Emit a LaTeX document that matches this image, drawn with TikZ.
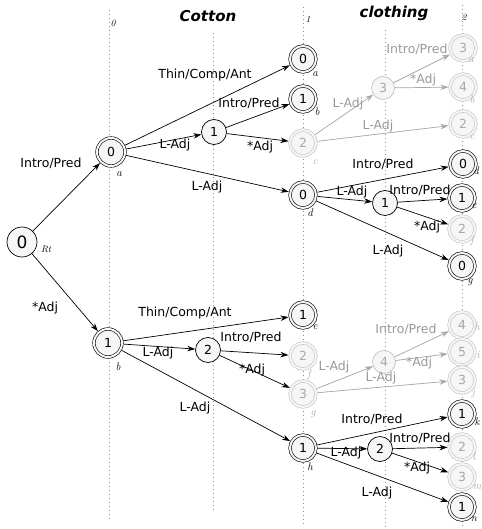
\documentclass[tikz,border=0pt]{standalone}
\usepackage{fontspec}
\newfontfamily\dejavu{DejaVu Sans}
\usetikzlibrary{arrows.meta}
\definecolor{fade}{HTML}{A8A8A8}
\definecolor{fadetext}{HTML}{9A9A9A}
\definecolor{fadering}{HTML}{C2C2C2}
\definecolor{guidegray}{HTML}{8C8C8C}
\definecolor{nodefill}{HTML}{F6F6F6}

\tikzset{
  state/.style={circle, draw, line width=0.7pt, fill=nodefill, minimum size=25pt,
    inner sep=0pt, font=\dejavu\fontsize{12.5}{12.5}\selectfont},
  accept/.style={circle, draw, line width=0.6pt, double=nodefill, double distance=2pt,
    fill=nodefill, minimum size=26pt, inner sep=0pt, outer sep=1.6pt,
    font=\dejavu\fontsize{12.5}{12.5}\selectfont},
  ghost/.style={draw=fadering, text=fade},
  arr/.style={-{Stealth[length=8pt,width=5.5pt]}, line width=0.7pt},
  garr/.style={arr, draw=fade, fill=fade},
  lab/.style={font=\dejavu\fontsize{12.5}{13}\selectfont, inner sep=0pt},
  glab/.style={lab, text=fadetext},
  sub/.style={font=\itshape\fontsize{11}{11}\selectfont, inner sep=0pt},
  gsub/.style={sub, text=fade},
  colnum/.style={font=\itshape\fontsize{9.5}{9.5}\selectfont, inner sep=0pt},
  heading/.style={font=\dejavu\bfseries\itshape\fontsize{15}{15}\selectfont, inner sep=0pt},
  guide/.style={draw=guidegray, line width=0.6pt, dash pattern=on 0.7pt off 3.3pt},
}

\begin{document}
\begin{tikzpicture}[x=1pt, y=-1pt]
\useasboundingbox (0,0) rectangle (481,529);

% dotted guide lines
\coordinate (g0t) at (109,10);  \coordinate (g0b) at (109,521);
\coordinate (gat) at (213,33);  \coordinate (gab) at (213,512);
\coordinate (g1t) at (303,7);   \coordinate (g1b) at (303,527);
\coordinate (gbt) at (385,30);  \coordinate (gbb) at (385,527);
\coordinate (g2t) at (462,5);   \coordinate (g2b) at (462,527);
\draw[guide] (g0t) -- (g0b);
\draw[guide] (gat) -- (gab);
\draw[guide] (g1t) -- (g1b);
\draw[guide] (gbt) -- (gbb);
\draw[guide] (g2t) -- (g2b);

% headings
\node[colnum] (n0) at (113,23) {0};
\node[colnum] (n1) at (308,19) {1};
\node[colnum] (n2) at (464,17) {2};
\node[heading] (cotton) at (208,16) {Cotton};
\node[heading] (clothing) at (394,13) {clothing};

% states
\node[state, minimum size=30pt, font=\dejavu\fontsize{17}{17}\selectfont] (rt) at (22,242) {0};
\node[accept, minimum size=28pt] (a) at (111,152) {0};
\node[accept, minimum size=28pt] (b) at (108,343) {1};
\node[state] (p1) at (214,132) {1};
\node[state] (p2) at (208,350) {2};

\node[accept] (c1a) at (303,59) {0};
\node[accept] (c1b) at (303,99) {1};
\node[accept, ghost] (c1c) at (303,143) {2};
\node[accept] (c1d) at (303,195) {0};
\node[accept] (c1e) at (303,315) {1};
\node[accept, ghost] (c1f) at (303,356) {2};
\node[accept, ghost] (c1g) at (303,394) {3};
\node[accept] (c1h) at (303,448) {1};

\node[state, ghost, minimum size=23pt] (q3) at (383,88) {3};
\node[state] (q1) at (385,203) {1};
\node[state, ghost, minimum size=23pt] (q4) at (384,362) {4};
\node[state] (q2) at (380,449) {2};

\node[accept, ghost] (c2a) at (463,48) {3};
\node[accept, ghost] (c2b) at (463,87) {4};
\node[accept, ghost] (c2c) at (463,124) {2};
\node[accept] (c2d) at (463,164) {0};
\node[accept] (c2e) at (462,198) {1};
\node[accept, ghost] (c2f) at (462,229) {2};
\node[accept] (c2g) at (462,266) {0};
\node[accept, ghost] (c2h) at (462,325) {4};
\node[accept, ghost] (c2i) at (462,352) {5};
\node[accept, ghost] (c2j) at (462,380) {3};
\node[accept] (c2k) at (462,414) {1};
\node[accept, ghost] (c2l) at (462,447) {2};
\node[accept, ghost] (c2m) at (462,477) {3};
\node[accept] (c2n) at (462,507) {1};

% state tags
\node[colnum] (trt) at (46,249) {Rt};
\node[sub] (ta) at (119,174) {a};
\node[sub] (tb) at (118,367) {b};
\node[sub] (t1a) at (315,74) {a};
\node[sub] (t1b) at (317,112) {b};
\node[gsub] (t1c) at (315,162) {c};
\node[sub] (t1d) at (310,213) {d};
\node[sub] (t1e) at (315,327) {e};
\node[gsub] (t1f) at (309,375) {f};
\node[gsub] (t1g) at (313,414) {g};
\node[sub] (t1h) at (310,467) {h};
\node[gsub] (t2a) at (471,60) {a};
\node[gsub] (t2b) at (472,100) {b};
\node[gsub] (t2c) at (472,137) {c};
\node[sub] (t2d) at (476,171) {d};
\node[sub] (t2e) at (474,206) {e};
\node[gsub] (t2f) at (472,241) {f};
\node[sub] (t2g) at (470,282) {g};
\node[gsub] (t2h) at (477,327) {h};
\node[gsub] (t2i) at (478,355) {i};
\node[gsub] (t2j) at (473,393) {j};
\node[sub] (t2k) at (477,422) {k};
\node[gsub] (t2l) at (474,457) {l};
\node[gsub] (t2m) at (477,487) {m};
\node[sub] (t2n) at (474,519) {n};

% transitions from the root
\draw[arr] (rt) -- (a) node[lab] at (51,163) {Intro/Pred};
\draw[arr] (rt) -- (b) node[lab] at (45,308) {*Adj};

% upper branch
\draw[arr] (a) -- (c1a) node[lab] at (205,75) {Thin/Comp/Ant};
\draw[arr] (a) -- (p1) node[lab] at (175,145) {L-Adj};
\draw[arr] (a) -- (c1d) node[lab] at (207,187) {L-Adj};
\draw[arr] (p1) -- (c1b) node[lab] at (249,103) {Intro/Pred};
\draw[arr] (p1) -- (c1c) node[lab] at (260,147) {*Adj};
\draw[garr] (c1c) -- (q3) node[glab] at (348,104) {L-Adj};
\draw[garr] (c1c) -- (c2c) node[glab] at (378,126) {L-Adj};
\draw[garr] (q3) -- (c2a) node[glab] at (417,49) {Intro/Pred};
\draw[garr] (q3) -- (c2b) node[glab] at (423,80) {*Adj};
\draw[arr] (c1d) -- (c2d) node[lab] at (383,164) {Intro/Pred};
\draw[arr] (c1d) -- (q1) node[lab] at (352,192) {L-Adj};
\draw[arr] (q1) -- (c2e) node[lab] at (420,190) {Intro/Pred};
\draw[arr] (q1) -- (c2f) node[lab] at (427,227) {*Adj};
\draw[arr] (c1d) -- (c2g) node[lab] at (388,251) {L-Adj};

% lower branch
\draw[arr] (b) -- (c1e) node[lab] at (185,313) {Thin/Comp/Ant};
\draw[arr] (b) -- (p2) node[lab] at (158,353) {L-Adj};
\draw[arr] (b) -- (c1h) node[lab] at (195,408) {L-Adj};
\draw[arr] (p2) -- (c1f) node[lab] at (251,337) {Intro/Pred};
\draw[arr] (p2) -- (c1g) node[lab] at (252,370) {*Adj};
\draw[garr] (c1g) -- (q4) node[glab] at (334,367) {L-Adj};
\draw[garr] (c1g) -- (c2j) node[glab] at (381,378) {L-Adj};
\draw[garr] (q4) -- (c2h) node[glab] at (406,329) {Intro/Pred};
\draw[garr] (q4) -- (c2i) node[glab] at (419,363) {*Adj};
\draw[arr] (c1h) -- (c2k) node[lab] at (372,419) {Intro/Pred};
\draw[arr] (c1h) -- (q2) node[lab] at (346,453) {L-Adj};
\draw[arr] (q2) -- (c2l) node[lab] at (420,438) {Intro/Pred};
\draw[arr] (q2) -- (c2m) node[lab] at (417,468) {*Adj};
\draw[arr] (c1h) -- (c2n) node[lab] at (377,493) {L-Adj};
\end{tikzpicture}
\end{document}
